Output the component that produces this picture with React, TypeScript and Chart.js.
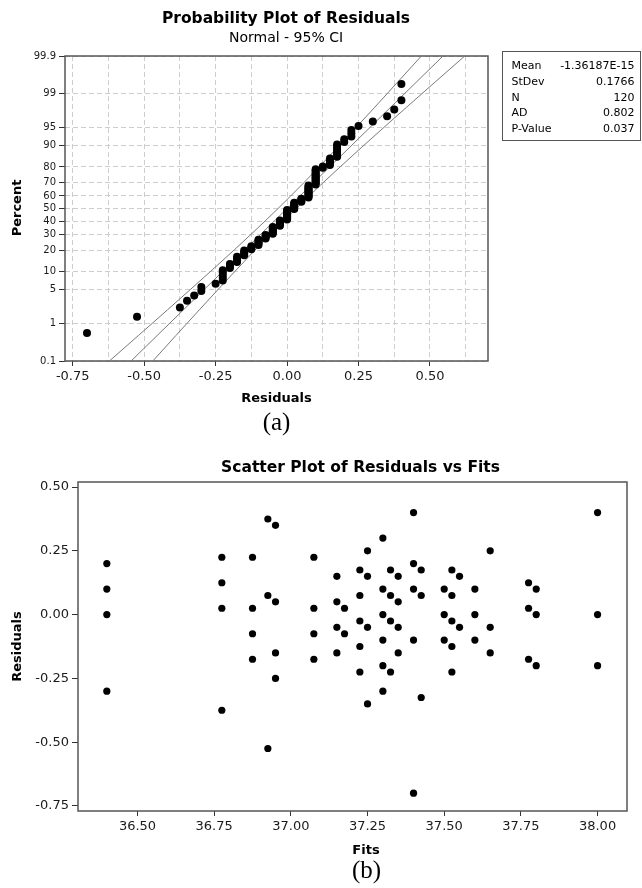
import React, { useEffect, useRef } from 'react';
import { Chart, registerables, LinearScale } from 'chart.js';

Chart.register(...registerables);

// ---------------- Data: (a) probability plot ----------------
// Residual values (ties stacked) and how many observations share each value (N = 120)
const residualLevels = [-0.7, -0.525, -0.375, -0.35, -0.325, -0.3, -0.25, -0.225, -0.2, -0.175, -0.15, -0.125, -0.1, -0.075, -0.05, -0.025, 0, 0.025, 0.05, 0.075, 0.1, 0.125, 0.15, 0.175, 0.2, 0.225, 0.25, 0.3, 0.35, 0.375, 0.4];
const residualCounts = [1, 1, 1, 1, 1, 2, 1, 5, 3, 4, 4, 3, 5, 4, 7, 6, 10, 7, 4, 12, 13, 2, 5, 7, 2, 3, 1, 1, 1, 1, 2];

// Fitted normal line and 95% CI bands (percent vs residual)
const fitLinePct = [0.1, 99.9];
const fitLineRes = [-0.5457, 0.5457];
const ciPct = [0.1, 0.5, 1, 2, 5, 10, 20, 30, 40, 50, 60, 70, 80, 90, 95, 98, 99, 99.5, 99.9];
const ciLower = [-0.6217, -0.5206, -0.4717, -0.4184, -0.339, -0.269, -0.1854, -0.1263, -0.0768, -0.0316, 0.0126, 0.0589, 0.1119, 0.1837, 0.242, 0.307, 0.35, 0.3892, 0.4698];
const ciUpper = [-0.4698, -0.3892, -0.35, -0.307, -0.242, -0.1837, -0.1119, -0.0589, -0.0126, 0.0316, 0.0768, 0.1263, 0.1854, 0.269, 0.339, 0.4184, 0.4717, 0.5206, 0.6217];

const percentTicks = [0.1, 1, 5, 10, 20, 30, 40, 50, 60, 70, 80, 90, 95, 99, 99.9];
const residGridA = [-0.75, -0.625, -0.5, -0.375, -0.25, -0.125, 0, 0.125, 0.25, 0.375, 0.5, 0.625];

const statLabels = ['Mean', 'StDev', 'N', 'AD', 'P-Value'];
const statValues = ['-1.36187E-15', '0.1766', '120', '0.802', '0.037'];

// ---------------- Data: (b) residuals vs fits ----------------
const fitsB = [
  36.4, 36.4, 36.4, 36.4,
  36.775, 36.775, 36.775, 36.775,
  36.875, 36.875, 36.875, 36.875,
  36.925, 36.925, 36.925,
  36.95, 36.95, 36.95, 36.95,
  37.075, 37.075, 37.075, 37.075,
  37.15, 37.15, 37.15, 37.15,
  37.175, 37.175,
  37.225, 37.225, 37.225, 37.225, 37.225,
  37.25, 37.25, 37.25, 37.25,
  37.3, 37.3, 37.3, 37.3, 37.3, 37.3,
  37.325, 37.325, 37.325, 37.325,
  37.35, 37.35, 37.35, 37.35,
  37.4, 37.4, 37.4, 37.4, 37.4,
  37.425, 37.425, 37.425,
  37.5, 37.5, 37.5,
  37.525, 37.525, 37.525, 37.525, 37.525,
  37.55, 37.55,
  37.6, 37.6, 37.6,
  37.65, 37.65, 37.65,
  37.775, 37.775, 37.775,
  37.8, 37.8, 37.8,
  38.0, 38.0, 38.0,
];
const residB = [
  0.2, 0.1, 0.0, -0.3,
  0.225, 0.125, 0.025, -0.375,
  0.225, 0.025, -0.075, -0.175,
  0.375, 0.075, -0.525,
  0.35, 0.05, -0.15, -0.25,
  0.225, 0.025, -0.075, -0.175,
  0.15, 0.05, -0.05, -0.15,
  0.025, -0.075,
  0.175, 0.075, -0.025, -0.125, -0.225,
  0.25, 0.15, -0.05, -0.35,
  0.3, 0.1, 0.0, -0.1, -0.2, -0.3,
  0.175, 0.075, -0.025, -0.225,
  0.15, 0.05, -0.05, -0.15,
  0.4, 0.2, 0.1, -0.1, -0.7,
  0.175, 0.075, -0.325,
  0.1, 0.0, -0.1,
  0.175, 0.075, -0.025, -0.125, -0.225,
  0.15, -0.05,
  0.1, 0.0, -0.1,
  0.25, -0.05, -0.15,
  0.125, 0.025, -0.175,
  0.1, 0.0, -0.2,
  0.4, 0.0, -0.2,
];
const fitTicksB = [36.5, 36.75, 37.0, 37.25, 37.5, 37.75, 38.0];
const residTicksB = [-0.75, -0.5, -0.25, 0, 0.25, 0.5];

// ---------------- Normal probability scale ----------------
function normInv(p: number): number {
  const a = [-3.969683028665376e1, 2.209460984245205e2, -2.759285104469687e2, 1.38357751867269e2, -3.066479806614716e1, 2.506628277459239];
  const b = [-5.447609879822406e1, 1.615858368580409e2, -1.556989798598866e2, 6.680131188771972e1, -1.328068155288572e1];
  const c = [-7.784894002430293e-3, -3.223964580411365e-1, -2.400758277161838, -2.549732539343734, 4.374664141464968, 2.938163982698783];
  const d = [7.784695709041462e-3, 3.224671290700398e-1, 2.445134137142996, 3.754408661907416];
  const pl = 0.02425;
  if (p <= 0) return -8;
  if (p >= 1) return 8;
  if (p < pl) {
    const q = Math.sqrt(-2 * Math.log(p));
    return (((((c[0] * q + c[1]) * q + c[2]) * q + c[3]) * q + c[4]) * q + c[5]) / ((((d[0] * q + d[1]) * q + d[2]) * q + d[3]) * q + 1);
  }
  if (p <= 1 - pl) {
    const q = p - 0.5;
    const r = q * q;
    return ((((((a[0] * r + a[1]) * r + a[2]) * r + a[3]) * r + a[4]) * r + a[5]) * q) / (((((b[0] * r + b[1]) * r + b[2]) * r + b[3]) * r + b[4]) * r + 1);
  }
  const q = Math.sqrt(-2 * Math.log(1 - p));
  return -(((((c[0] * q + c[1]) * q + c[2]) * q + c[3]) * q + c[4]) * q + c[5]) / ((((d[0] * q + d[1]) * q + d[2]) * q + d[3]) * q + 1);
}
function normCdf(z: number): number {
  const t = 1 / (1 + 0.3275911 * Math.abs(z) / Math.SQRT2);
  const y = 1 - (((((1.061405429 * t - 1.453152027) * t + 1.421413741) * t - 0.284496736) * t + 0.254829592) * t) * Math.exp(-(z * z) / 2);
  return z >= 0 ? 0.5 * (1 + y) : 0.5 * (1 - y);
}

class ProbitScale extends (LinearScale as any) {
  static id = 'probit';
  static defaults = {};
  determineDataLimits() {
    this.min = this.options.min;
    this.max = this.options.max;
  }
  buildTicks() {
    return percentTicks.map((v) => ({ value: v }));
  }
  configure() {
    super.configure();
    this._zMin = normInv(this.min / 100);
    this._zMax = normInv(this.max / 100);
  }
  getPixelForValue(v: number) {
    const z = normInv(v / 100);
    return this.getPixelForDecimal((z - this._zMin) / (this._zMax - this._zMin));
  }
  getValueForPixel(px: number) {
    const dec = this.getDecimalForPixel(px);
    return normCdf(this._zMin + dec * (this._zMax - this._zMin)) * 100;
  }
}
Chart.register(ProbitScale as any);

const FONT = '"DejaVu Sans", Verdana, sans-serif';
const SERIF = '"Liberation Serif", "Times New Roman", serif';

function isMajorA(v: number) {
  return Math.abs(v / 0.25 - Math.round(v / 0.25)) < 1e-6;
}

function buildConfigA(): any {
  const sorted: number[] = [];
  residualLevels.forEach((v, k) => {
    for (let j = 0; j < residualCounts[k]; j++) sorted.push(v);
  });
  const n = sorted.length;
  const probPoints = sorted.map((r, i) => ({ x: r, y: ((i + 1 - 0.3) / (n + 0.4)) * 100 }));
  const fitPoints = fitLinePct.map((p, i) => ({ x: fitLineRes[i], y: p }));
  const lowPoints = ciPct.map((p, i) => ({ x: ciLower[i], y: p }));
  const upPoints = ciPct.map((p, i) => ({ x: ciUpper[i], y: p }));
  const lineDs = (data: any[]) => ({
    data,
    showLine: true,
    pointRadius: 0,
    borderColor: '#7a7a7a',
    borderWidth: 1,
    fill: false,
  });

  const decor = {
    id: 'decorA',
    beforeDatasetsDraw(chart: any) {
      const { ctx, chartArea: a } = chart;
      ctx.save();
      ctx.strokeStyle = '#555';
      ctx.lineWidth = 1.5;
      ctx.strokeRect(a.left, a.top, a.right - a.left, a.bottom - a.top);
      ctx.restore();
    },
    afterDraw(chart: any) {
      const ctx = chart.ctx;
      ctx.save();
      ctx.fillStyle = '#000';
      ctx.textAlign = 'center';
      ctx.textBaseline = 'alphabetic';
      ctx.font = `bold 15.5px ${FONT}`;
      ctx.fillText('Probability Plot of Residuals', 286, 23);
      ctx.font = `14px ${FONT}`;
      ctx.fillText('Normal - 95% CI', 286, 41.5);
      ctx.font = `bold 13px ${FONT}`;
      ctx.fillText('Residuals', 276.5, 401.5);
      ctx.save();
      ctx.translate(21, 208);
      ctx.rotate(-Math.PI / 2);
      ctx.fillText('Percent', 0, 0);
      ctx.restore();
      ctx.font = `25px ${SERIF}`;
      ctx.fillText('(a)', 276.5, 429.5);
      // stats box
      ctx.strokeStyle = '#555';
      ctx.lineWidth = 1;
      ctx.strokeRect(502.5, 51.5, 138, 89);
      ctx.font = `11px ${FONT}`;
      ctx.textBaseline = 'middle';
      statLabels.forEach((lab, i) => {
        const y = 66.5 + i * 15.6;
        ctx.textAlign = 'left';
        ctx.fillText(lab, 511.5, y);
        ctx.textAlign = 'right';
        ctx.fillText(statValues[i], 634.5, y);
      });
      ctx.restore();
    },
  };

  return {
    type: 'scatter',
    data: {
      datasets: [
        {
          data: probPoints,
          pointRadius: 4,
          pointBackgroundColor: '#000',
          pointBorderWidth: 0,
          showLine: false,
        },
        lineDs(fitPoints),
        lineDs(lowPoints),
        lineDs(upPoints),
      ],
    },
    options: {
      animation: false,
      responsive: false,
      devicePixelRatio: 1,
      layout: { padding: { left: 0, top: 56, right: 154, bottom: 0 } },
      plugins: { legend: { display: false }, tooltip: { enabled: false }, title: { display: false } },
      scales: {
        x: {
          type: 'linear',
          min: -0.777,
          max: 0.703,
          afterBuildTicks: (s: any) => {
            s.ticks = residGridA.map((v) => ({ value: v }));
          },
          afterFit: (s: any) => {
            s.height = 79;
          },
          ticks: {
            autoSkip: false,
            maxRotation: 0,
            minRotation: 0,
            padding: 3,
            color: '#1a1a1a',
            font: { family: FONT, size: 13 },
            callback: (v: number) => (isMajorA(v) ? (Math.abs(v) < 1e-9 ? 0 : v).toFixed(2) : ''),
          },
          grid: {
            display: true,
            drawOnChartArea: true,
            drawTicks: true,
            tickLength: 5,
            color: '#cdcdcd',
            lineWidth: 1,
            tickColor: (c: any) => (c && c.tick && isMajorA(c.tick.value) ? '#333' : 'rgba(0,0,0,0)'),
            tickWidth: 1,
          },
          border: { display: false, dash: [5, 3] },
        },
        y: {
          type: 'probit',
          min: 0.1,
          max: 99.9,
          afterFit: (s: any) => {
            s.width = 65;
          },
          ticks: {
            autoSkip: false,
            padding: 3,
            color: '#1a1a1a',
            font: { family: FONT, size: 10 },
            callback: (v: number) => String(v),
          },
          grid: {
            display: true,
            drawOnChartArea: true,
            drawTicks: true,
            tickLength: 6,
            color: '#cdcdcd',
            lineWidth: 1,
            tickColor: '#333',
            tickWidth: 1,
          },
          border: { display: false, dash: [5, 3] },
        },
      },
    },
    plugins: [decor],
  };
}

function buildConfigB(): any {
  const pts = fitsB.map((f, i) => ({ x: f, y: residB[i] }));
  const decor = {
    id: 'decorB',
    beforeDatasetsDraw(chart: any) {
      const { ctx, chartArea: a } = chart;
      ctx.save();
      ctx.strokeStyle = '#555';
      ctx.lineWidth = 1.5;
      ctx.strokeRect(a.left, a.top, a.right - a.left, a.bottom - a.top);
      ctx.restore();
    },
    afterDraw(chart: any) {
      const ctx = chart.ctx;
      ctx.save();
      ctx.fillStyle = '#000';
      ctx.textAlign = 'center';
      ctx.textBaseline = 'alphabetic';
      ctx.font = `bold 15.5px ${FONT}`;
      ctx.fillText('Scatter Plot of Residuals vs Fits', 360.5, 32);
      ctx.font = `bold 13px ${FONT}`;
      ctx.fillText('Fits', 366, 414);
      ctx.save();
      ctx.translate(21, 206.5);
      ctx.rotate(-Math.PI / 2);
      ctx.fillText('Residuals', 0, 0);
      ctx.restore();
      ctx.font = `25px ${SERIF}`;
      ctx.fillText('(b)', 366.5, 438);
      ctx.restore();
    },
  };
  return {
    type: 'scatter',
    data: {
      datasets: [
        {
          data: pts,
          pointRadius: 3.6,
          pointBackgroundColor: '#000',
          pointBorderWidth: 0,
        },
      ],
    },
    options: {
      animation: false,
      responsive: false,
      devicePixelRatio: 1,
      layout: { padding: { left: 0, top: 42, right: 15, bottom: 0 } },
      plugins: { legend: { display: false }, tooltip: { enabled: false }, title: { display: false } },
      scales: {
        x: {
          type: 'linear',
          min: 36.306,
          max: 38.096,
          afterBuildTicks: (s: any) => {
            s.ticks = fitTicksB.map((v) => ({ value: v }));
          },
          afterFit: (s: any) => {
            s.height = 77;
          },
          ticks: {
            autoSkip: false,
            maxRotation: 0,
            minRotation: 0,
            padding: 3,
            color: '#1a1a1a',
            font: { family: FONT, size: 13 },
            callback: (v: number) => v.toFixed(2),
          },
          grid: { display: true, drawOnChartArea: false, drawTicks: true, tickLength: 5, tickColor: '#333', tickWidth: 1 },
          border: { display: false },
        },
        y: {
          type: 'linear',
          min: -0.77,
          max: 0.52,
          afterBuildTicks: (s: any) => {
            s.ticks = residTicksB.map((v) => ({ value: v }));
          },
          afterFit: (s: any) => {
            s.width = 78;
          },
          ticks: {
            autoSkip: false,
            padding: 3,
            color: '#1a1a1a',
            font: { family: FONT, size: 13 },
            callback: (v: number) => (Math.abs(v) < 1e-9 ? 0 : v).toFixed(2),
          },
          grid: { display: true, drawOnChartArea: false, drawTicks: true, tickLength: 6, tickColor: '#333', tickWidth: 1 },
          border: { display: false },
        },
      },
    },
    plugins: [decor],
  };
}

export default function App() {
  const refA = useRef<HTMLCanvasElement>(null);
  const refB = useRef<HTMLCanvasElement>(null);
  useEffect(() => {
    const chartA = new Chart(refA.current as HTMLCanvasElement, buildConfigA());
    const chartB = new Chart(refB.current as HTMLCanvasElement, buildConfigB());
    return () => {
      chartA.destroy();
      chartB.destroy();
    };
  }, []);
  return (
    <div style={{ position: 'absolute', left: 0, top: 0, width: 642, height: 888, background: '#fff' }}>
      <canvas ref={refA} width={642} height={440} style={{ position: 'absolute', left: 0, top: 0, width: 642, height: 440 }} />
      <canvas ref={refB} width={642} height={448} style={{ position: 'absolute', left: 0, top: 440, width: 642, height: 448 }} />
    </div>
  );
}
